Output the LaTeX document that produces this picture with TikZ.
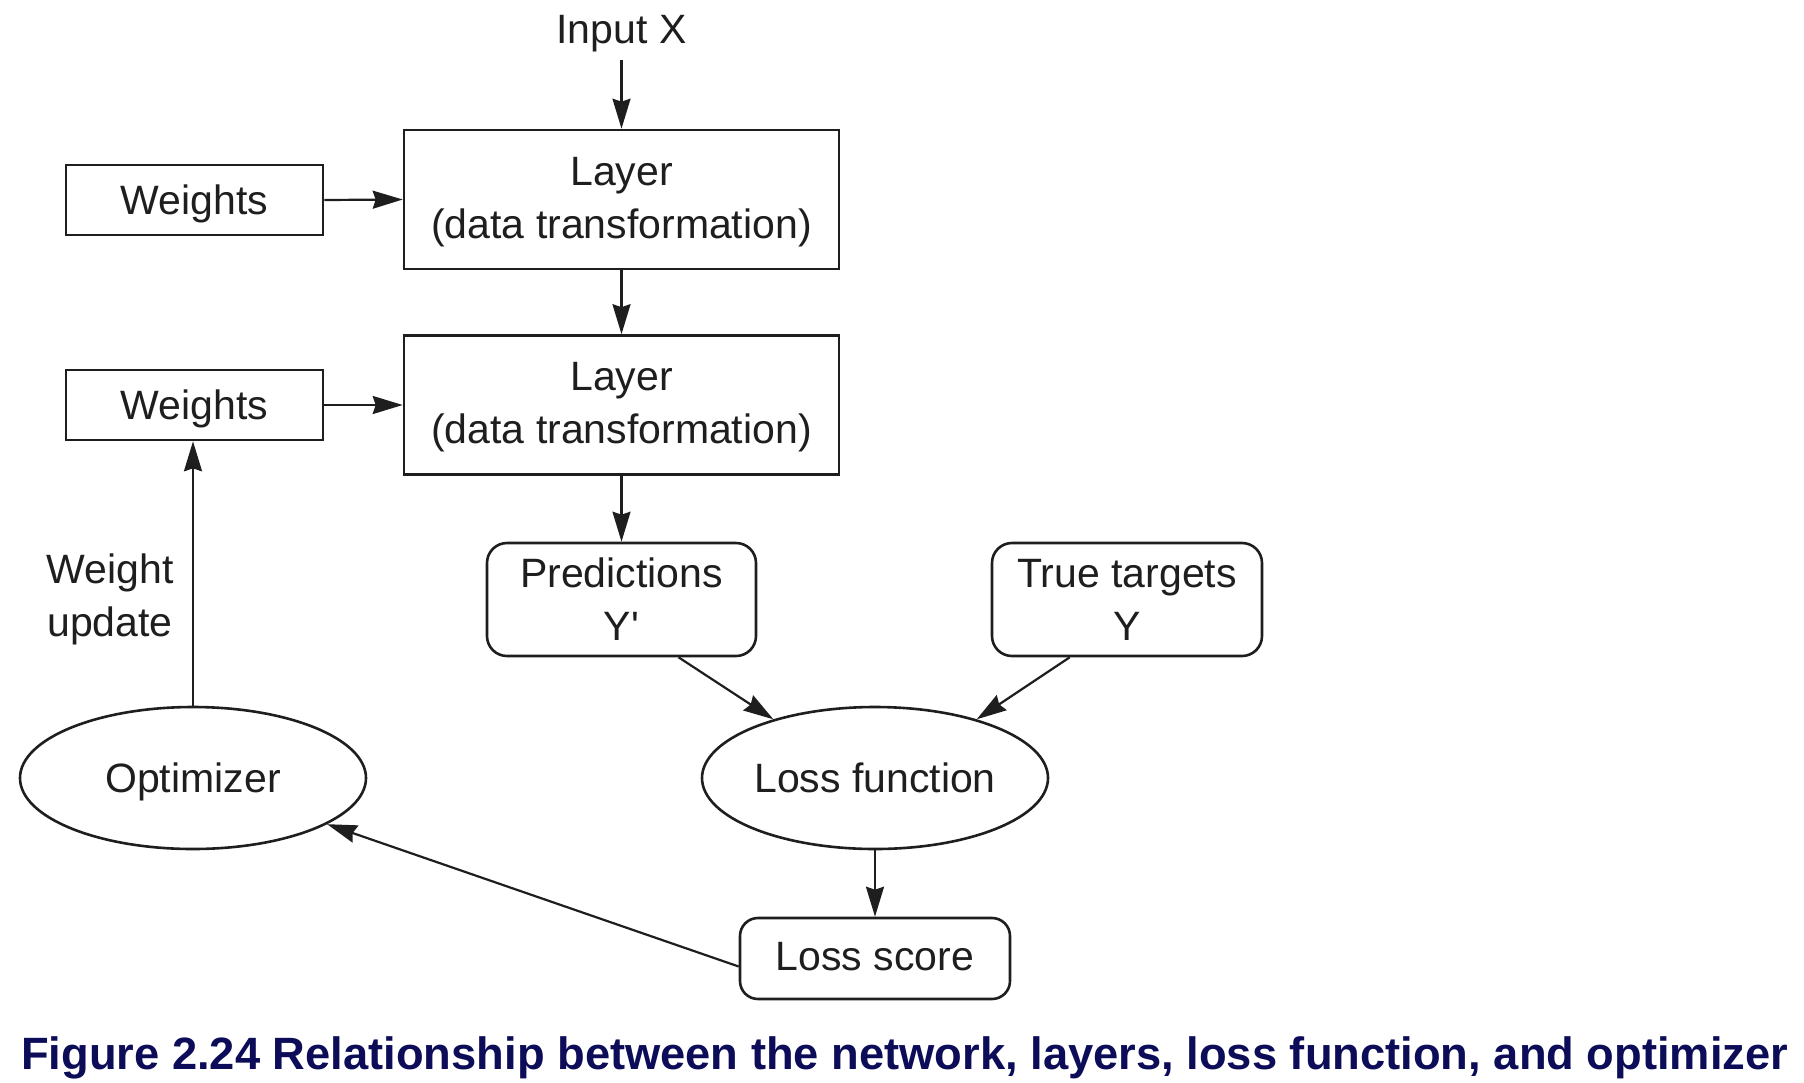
\documentclass[tikz,border=0pt]{standalone}
\usepackage{fontspec}
\setmainfont{Liberation Sans}[Ligatures=TeXOff]
\usetikzlibrary{shapes.geometric,arrows.meta,calc}
\definecolor{ink}{RGB}{30,30,30}
\definecolor{capblue}{RGB}{12,12,88}
\begin{document}
\begin{tikzpicture}[x=1pt,y=-1pt,
  every node/.style={font=\fontsize{41}{53}\selectfont, text=ink},
  sqbox/.style={draw=ink, line width=2.6pt, align=center, inner sep=0pt},
  rbox/.style={sqbox, rounded corners=20pt},
  oval/.style={ellipse, draw=ink, line width=2.6pt, inner sep=0pt, minimum width=346pt, minimum height=142pt},
  arr/.style={draw=ink, line width=2.2pt, -{Stealth[length=30pt,width=18pt,inset=3pt]}}
]
\useasboundingbox (0,0) rectangle (1804,1082);

\node[anchor=base, inner sep=8pt] (in) at (621.5,43) {Input X};

\node[sqbox, text depth=4pt, minimum width=435pt, minimum height=139pt] (l1) at (621.5,199.5) {Layer\\(data transformation)};
\node[sqbox, text depth=0pt, minimum width=257pt, minimum height=70pt] (w1) at (194.5,200) {Weights};

\node[sqbox, text depth=4pt, minimum width=435pt, minimum height=139pt] (l2) at (621.5,405) {Layer\\(data transformation)};
\node[sqbox, text depth=0pt, minimum width=257pt, minimum height=70pt] (w2) at (194.5,405) {Weights};

\node[rbox, minimum width=269pt, minimum height=113pt] (pred) at (621.5,599.5) {Predictions\\Y'};
\node[rbox, minimum width=270pt, minimum height=113pt] (true) at (1127,599.5) {True targets\\Y};

\node[oval] (loss) at (875,778) {Loss function};
\node[oval, text depth=0pt] (opt) at (193,778) {Optimizer};

\node[rbox, rounded corners=18pt, text depth=4.6pt, minimum width=270pt, minimum height=81pt] (score) at (875,958.5) {Loss score};

\node[align=center, inner sep=0pt] (wu) at (110,599) {Weight\\update};

\node[anchor=base west, inner sep=0pt, text=capblue, font=\bfseries\fontsize{45.3}{54}\selectfont] (cap) at (21,1069) {Figure 2.24 Relationship between the network, layers, loss function, and optimizer};

\draw[arr] (in.south) -- (l1.north);
\draw[arr] (w1.east) -- (l1.west);
\draw[arr] (l1.south) -- (l2.north);
\draw[arr] (w2.east) -- (l2.west);
\draw[arr] (l2.south) -- (pred.north);
\draw[arr] ($(pred.south west)!0.71!(pred.south east)$) -- (loss.150);
\draw[arr] ($(true.south west)!0.29!(true.south east)$) -- (loss.30);
\draw[arr] (loss.south) -- (score.north);
\draw[arr] ([yshift=-8pt]score.west) -- (opt.-19);
\draw[arr] (opt.north) -- (opt.north |- w2.south);
\end{tikzpicture}
\end{document}
